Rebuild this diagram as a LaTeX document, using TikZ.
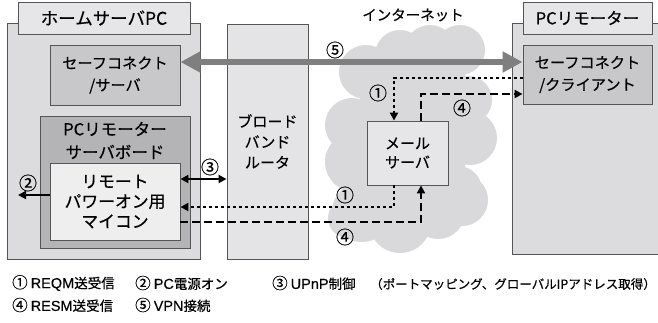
\documentclass[tikz,border=0pt]{standalone}
\usepackage{fontspec}
\setmainfont{Noto Sans CJK JP}[FakeBold=0.45]
\newfontfamily\latfam{Liberation Sans}[FakeBold=0.25]
\usetikzlibrary{arrows.meta}
\definecolor{outerc}{HTML}{DCDCDE}
\definecolor{tabc}{HTML}{E6E6E8}
\definecolor{safec}{HTML}{C8C8CA}
\definecolor{boardc}{HTML}{B4B4B6}
\definecolor{miconc}{HTML}{EEEEEF}
\definecolor{routerc}{HTML}{E4E4E6}
\definecolor{mailc}{HTML}{E6E6E8}
\definecolor{cloudc}{HTML}{D9D9DB}
\definecolor{edgec}{HTML}{555555}
\definecolor{vpnc}{HTML}{7F7F7F}
\newcommand\mainlbl{\fontsize{15pt}{21.5pt}\selectfont}
\newcommand\LatTxt[1]{{\latfam\fontsize{14.5pt}{16pt}\selectfont #1}}
\newcommand\CircNum[1]{{\fontsize{15.5pt}{16pt}\selectfont #1}}
\tikzset{
  box/.style={draw=edgec, line width=0.9pt, rectangle, inner sep=0pt, align=center, font=\mainlbl},
  txt/.style={inner sep=0pt, align=center, font=\mainlbl},
  num/.style={inner sep=0pt, font=\fontsize{18pt}{18pt}\selectfont},
  leg/.style={inner sep=0pt, anchor=west, font=\fontsize{13.5pt}{16pt}\selectfont},
  solidarr/.style={line width=2.2pt, -{Triangle[length=8pt,width=8pt]}},
  dblarr/.style={line width=2.2pt, {Triangle[length=8pt,width=8pt]}-{Triangle[length=8pt,width=8pt]}},
  dotarr/.style={line width=2.6pt, dash pattern=on 2.6pt off 3.4pt, -{Triangle[length=8pt,width=8pt]}},
  dasharr/.style={line width=2.6pt, dash pattern=on 8pt off 4pt, -{Triangle[length=8pt,width=8pt]}},
  vpnarr/.style={draw=vpnc, line width=6pt, {Triangle[length=20pt,width=20pt]}-{Triangle[length=20pt,width=20pt]}}
}
\begin{document}
\begin{tikzpicture}[x=1pt,y=-1pt]
\useasboundingbox[fill=white] (0,0) rectangle (658,322);

% Home server PC
\node[box, fill=outerc, minimum width=193pt, minimum height=236pt] (home) at (103.5,141) {};
\node[box, fill=tabc, minimum width=172pt, minimum height=32pt, font=\fontsize{17.5pt}{18pt}\selectfont] (hometab) at (104,18) {ホームサーバPC};
\node[box, fill=safec, minimum width=130pt, minimum height=60pt, font=\fontsize{15.2pt}{22pt}\selectfont] (safes) at (115,75) {セーフコネクト\\/サーバ};
\node[box, fill=boardc, minimum width=150pt, minimum height=132pt] (board) at (115,182) {};
\node[txt, font=\fontsize{16.5pt}{23pt}\selectfont] (boardlbl) at (115,140.5) {PCリモーター\\サーバボード};
\node[box, fill=miconc, minimum width=130pt, minimum height=77pt, font=\fontsize{16.8pt}{20pt}\selectfont] (micon) at (115,201.5) {リモート\\パワーオン用\\マイコン};

% PC remoter
\fill[outerc] (512,23) rectangle (658,254);
\draw[edgec, line width=0.9pt] (659,23) -- (512,23) -- (512,254) -- (659,254);
\node[box, fill=tabc, minimum width=129pt, minimum height=32pt, font=\fontsize{16.5pt}{18pt}\selectfont] (remtab) at (587.5,18) {PCリモーター};
\node[box, fill=safec, minimum width=129pt, minimum height=59pt, font=\fontsize{15.2pt}{22pt}\selectfont] (client) at (587.5,74.5) {セーフコネクト\\/クライアント};

% Cloud
\fill[cloudc]
  (366,72) circle (27pt)
  (400,55) circle (25pt)
  (430,50) circle (25pt)
  (460,50) circle (25pt)
  (468,100) circle (24pt)
  (470,138) circle (27pt)
  (458,190) circle (24pt)
  (462,200) circle (26pt)
  (438,212) circle (27pt)
  (400,222) circle (31pt)
  (362,212) circle (30pt)
  (348,218) circle (20pt)
  (355,162) circle (30pt)
  (352,125) circle (27pt)
  (360,60) rectangle (465,225);
\node[txt, font=\fontsize{14.5pt}{16pt}\selectfont] (inet) at (413,15) {インターネット};

% Router
\node[box, fill=routerc, minimum width=81pt, minimum height=235pt, font=\fontsize{15pt}{20.5pt}\selectfont] (router) at (267.5,141.5) {ブロード\\バンド\\ルータ};

% Mail server
\node[box, fill=mailc, minimum width=81pt, minimum height=64pt, font=\fontsize{15pt}{19pt}\selectfont] (mail) at (407.5,153) {メール\\サーバ};

% Connectors
\coordinate (v5) at ([yshift=13pt]safes.east);
\draw[vpnarr] (v5) -- (v5 -| client.west);

\draw[dotarr] ([yshift=-3.5pt]client.west) -| ([xshift=-13.5pt]mail.north);
\draw[dotarr] ([xshift=-13.5pt]mail.south) |- ([yshift=-5.5pt]micon.east);
\draw[dasharr] ([yshift=-20.5pt]micon.east) -| ([xshift=13.5pt]mail.south);
\draw[dasharr] ([xshift=13.5pt]mail.north) |- ([yshift=-19.5pt]client.west);

\coordinate (c3) at ([yshift=22.5pt]micon.east);
\draw[dblarr] (c3) -- (c3 -| router.west);
\coordinate (p2) at (18,195);
\draw[solidarr] ([yshift=6.5pt]micon.west) -- (p2);

% Labels
\node[num] (n5) at (335,50) {⑤};
\node[num] (n1a) at (378,93) {①};
\node[num] (n4a) at (462,108) {④};
\node[num] (n1b) at (345,195) {①};
\node[num] (n4b) at (345,237) {④};
\node[num] (n3) at (210,167) {③};
\node[num] (n2) at (28,183) {②};

% Legend
\node[leg] (leg1) at (12,283) {\CircNum{①} \LatTxt{REQM}送受信};
\node[leg] (leg2) at (135,283) {\CircNum{②} \LatTxt{PC}電源オン};
\node[leg] (leg3) at (272,283) {\CircNum{③} \LatTxt{UPnP}制御};
\node[leg, anchor=east, font=\fontsize{12.5pt}{14pt}\selectfont] (legnote) at (656,284) {（ポートマッピング、グローバルIPアドレス取得）};
\node[leg] (leg4) at (12,305) {\CircNum{④} \LatTxt{RESM}送受信};
\node[leg] (leg5) at (135,305) {\CircNum{⑤} \LatTxt{VPN}接続};
\end{tikzpicture}
\end{document}
